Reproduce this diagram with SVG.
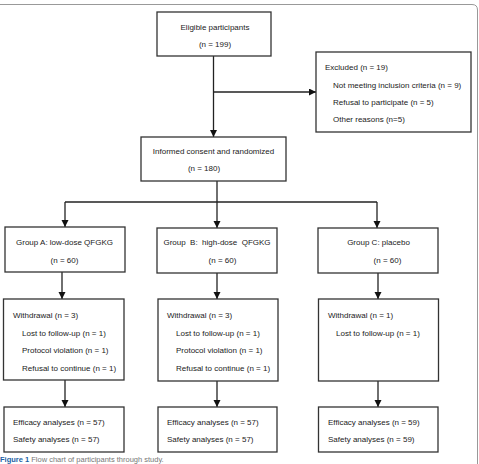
<svg xmlns="http://www.w3.org/2000/svg" width="479" height="464" viewBox="0 0 479 464">
<style>
rect.box{fill:#fff;stroke:#333;stroke-width:1.3}
text{font-family:"Liberation Sans",Arial,sans-serif;font-size:8px;fill:#222}
.c{text-anchor:middle}
.conn{fill:none;stroke:#222;stroke-width:1.3}
.cap{font-size:7.5px;fill:#777}
.capb{font-weight:bold;fill:#1d5fa5}
</style>
<defs>
<marker id="ah" markerUnits="userSpaceOnUse" markerWidth="8" markerHeight="8" refX="7" refY="3.5" orient="auto">
<path d="M0,0 L7,3.5 L0,7 Z" fill="#111"/>
</marker>
</defs>
<rect width="479" height="464" fill="#fff"/>
<path d="M0,4.5 H472 Q477.5,4.5 477.5,10 V464" fill="none" stroke="#999" stroke-width="1"/>

<g id="connectors">
<path class="conn" d="M213.5,56 V137" marker-end="url(#ah)"/>
<path class="conn" d="M213.5,92 H316" marker-end="url(#ah)"/>
<path class="conn" d="M217,181 V202"/>
<path class="conn" d="M65,202 H377"/>
<path class="conn" d="M65,202 V227" marker-end="url(#ah)"/>
<path class="conn" d="M217,202 V228" marker-end="url(#ah)"/>
<path class="conn" d="M377,202 V228" marker-end="url(#ah)"/>
<path class="conn" d="M62,272 V299" marker-end="url(#ah)"/>
<path class="conn" d="M217,273 V299" marker-end="url(#ah)"/>
<path class="conn" d="M378,273 V299" marker-end="url(#ah)"/>
<path class="conn" d="M65,380 V407" marker-end="url(#ah)"/>
<path class="conn" d="M217,381 V407" marker-end="url(#ah)"/>
<path class="conn" d="M378,381 V407" marker-end="url(#ah)"/>
</g>

<g id="eligible">
<rect class="box" x="157" y="12" width="114" height="44"/>
<text class="c" x="215" y="29.5">Eligible participants</text>
<text class="c" x="215" y="47">(n = 199)</text>
</g>

<g id="excluded">
<rect class="box" x="316" y="52" width="155" height="80"/>
<text x="325" y="69.5">Excluded (n = 19)</text>
<text x="333" y="87.5">Not meeting inclusion criteria (n = 9)</text>
<text x="333" y="105">Refusal to participate (n = 5)</text>
<text x="333" y="122">Other reasons (n=5)</text>
</g>

<g id="randomized">
<rect class="box" x="141" y="137" width="145" height="44"/>
<text class="c" x="213.5" y="154">Informed consent and randomized</text>
<text class="c" x="204" y="171">(n = 180)</text>
</g>

<g id="groupA">
<rect class="box" x="5" y="227" width="120" height="45"/>
<text class="c" x="64.5" y="245">Group A: low-dose QFGKG</text>
<text class="c" x="64.5" y="263">(n = 60)</text>
</g>
<g id="groupB">
<rect class="box" x="157" y="228" width="120" height="45"/>
<text class="c" x="217" y="245" xml:space="preserve">Group  B:  high-dose  QFGKG</text>
<text class="c" x="222.5" y="263">(n = 60)</text>
</g>
<g id="groupC">
<rect class="box" x="318" y="228" width="120" height="45"/>
<text class="c" x="378.5" y="245">Group C: placebo</text>
<text class="c" x="387.5" y="263">(n = 60)</text>
</g>

<g id="withdrawA">
<rect class="box" x="3.5" y="299" width="120.5" height="81"/>
<text x="13" y="318">Withdrawal (n = 3)</text>
<text x="22" y="335.5">Lost to follow-up (n = 1)</text>
<text x="22" y="353">Protocol violation (n = 1)</text>
<text x="22" y="371">Refusal to continue (n = 1)</text>
</g>
<g id="withdrawB">
<rect class="box" x="158" y="299" width="120" height="82"/>
<text x="167" y="318">Withdrawal (n = 3)</text>
<text x="176" y="335.5">Lost to follow-up (n = 1)</text>
<text x="176" y="353">Protocol violation (n = 1)</text>
<text x="176" y="371">Refusal to continue (n = 1)</text>
</g>
<g id="withdrawC">
<rect class="box" x="318.5" y="299" width="120" height="82"/>
<text x="328" y="318">Withdrawal (n = 1)</text>
<text x="336" y="335.5">Lost to follow-up (n = 1)</text>
</g>

<g id="analysisA">
<rect class="box" x="4" y="407" width="120" height="45"/>
<text x="13" y="425">Efficacy analyses (n = 57)</text>
<text x="13" y="442">Safety analyses (n = 57)</text>
</g>
<g id="analysisB">
<rect class="box" x="158" y="407" width="119" height="45"/>
<text x="167" y="425">Efficacy analyses (n = 57)</text>
<text x="167" y="442">Safety analyses (n = 57)</text>
</g>
<g id="analysisC">
<rect class="box" x="318.5" y="407" width="119.5" height="45"/>
<text x="328" y="425">Efficacy analyses (n = 59)</text>
<text x="328" y="442">Safety analyses (n = 59)</text>
</g>

<text class="cap" x="0" y="461.5"><tspan class="capb">Figure 1</tspan>  Flow chart of participants through study.</text>
</svg>
